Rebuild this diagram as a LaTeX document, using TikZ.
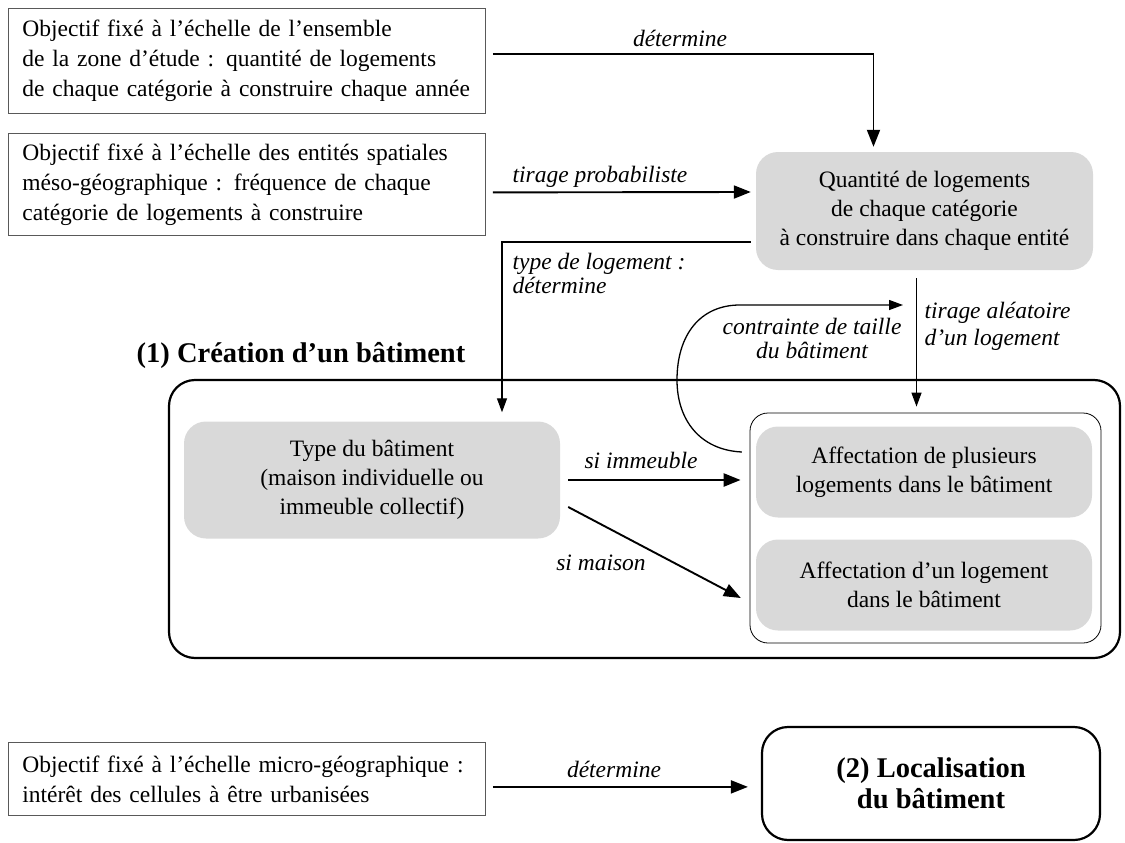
\documentclass[tikz,border=0pt]{standalone}
\usepackage{fontspec}
\setmainfont{Liberation Serif}
\usetikzlibrary{arrows.meta}

\tikzset{
  objbox/.style={draw=black!65, line width=0.8pt, anchor=north west, align=left,
    inner xsep=14pt, text width=449pt, font=\fontsize{23.5}{30}\selectfont},
  greybox/.style={fill=black!15, rounded corners=22pt, align=center,
    font=\fontsize{23.5}{29}\selectfont},
  lab/.style={font=\fontsize{23.5}{24}\selectfont\itshape},
  fleche/.style={-{Triangle[length=17pt,width=13pt]}, line width=1.9pt},
  fine/.style={-{Triangle[length=14pt,width=10pt]}, line width=1.3pt},
}

\begin{document}
\begin{tikzpicture}[x=1pt,y=-1pt]
\useasboundingbox (0,0) rectangle (1125,843);

% Objectives on the left
\node (objA) [objbox, minimum height=105pt] at (8,8)
  {Objectif fixé à l’échelle de l’ensemble\\de la zone d’étude : quantité de logements\\de chaque catégorie à construire chaque année};
\node (objB) [objbox, minimum height=102pt] at (8,133)
  {Objectif fixé à l’échelle des entités spatiales\\méso-géographique : fréquence de chaque\\catégorie de logements à construire};
\node (objC) [objbox, minimum height=73pt] at (8,742)
  {Objectif fixé à l’échelle micro-géographique :\\intérêt des cellules à être urbanisées};

% Grey boxes
\node (Q) [greybox, minimum width=337pt, minimum height=118pt] at (924.5,211)
  {Quantité de logements\\de chaque catégorie\\à construire dans chaque entité};

% (1) building creation
\node (titre) [font=\fontsize{28.5}{32}\selectfont\bfseries] at (301,355) {(1) Création d’un bâtiment};
\node (creation) [draw, line width=2.2pt, rounded corners=26pt, minimum width=951pt, minimum height=278pt] at (644.5,519) {};
\node (inner) [draw, line width=0.8pt, rounded corners=18pt, minimum width=351pt, minimum height=230pt] at (925.5,528) {};
\node (type) [greybox, minimum width=376pt, minimum height=117pt] at (372,480)
  {Type du bâtiment\\(maison individuelle ou\\immeuble collectif)};
\node (affP) [greybox, minimum width=336pt, minimum height=91pt] at (924,472)
  {Affectation de plusieurs\\logements dans le bâtiment};
\node (affU) [greybox, minimum width=336pt, minimum height=91pt] at (924,585)
  {Affectation d’un logement\\dans le bâtiment};

% (2) location
\node (loc) [draw, line width=2.2pt, rounded corners=26pt, minimum width=338pt, minimum height=113pt,
  align=center, font=\fontsize{28.5}{31}\selectfont\bfseries] at (931,783.5) {(2) Localisation\\du bâtiment};

% Connectors
\draw[fleche, shorten >=5pt] ([xshift=7pt,yshift=7pt]objA.east) -| ([xshift=-51pt]Q.north);
\draw[fleche] ([xshift=7pt,yshift=-8pt]objB.east) -- ([xshift=-5pt,yshift=19pt]Q.west);
\draw[fine, shorten >=9pt] ([xshift=-5pt,yshift=-31pt]Q.west) -| ([xshift=130pt]type.north);
\draw[fine, shorten <=8pt, shorten >=6pt] ([xshift=-8pt]Q.south) -- ([xshift=-8pt]Q.south |- inner.north);
\draw[fleche, line width=2.5pt, shorten >=9pt] ([xshift=8pt]type.east) -- (type.east -| inner.west);
\draw[fleche] ([xshift=8pt,yshift=-27pt]type.east) -- ([xshift=-15pt,yshift=-13pt]affU.west);
\coordinate (contrainte) at (903,305);
\draw[fine] ([xshift=-14pt,yshift=20pt]affP.west) .. controls (700,450) and (677,420) .. (677,380)
  .. controls (677,335) and (700,305) .. (740,305) -- (contrainte);
\draw[fleche, shorten >=13pt] ([xshift=7pt,yshift=-8pt]objC.east) -- ([yshift=-8pt]objC.east -| loc.west);

% Labels
\node (l1) [lab] at (680,38) {détermine};
\node (l2) [lab] at (600,177) {tirage probabiliste};
\node (l3) [lab, anchor=west, align=left] at (509,273) {type de logement :\\détermine};
\node (l4) [lab, anchor=west, align=left, font=\fontsize{23.5}{27}\selectfont\itshape] at (921,326) {tirage aléatoire\\d’un logement};
\node (l5) [lab, align=center] at (812,338) {contrainte de taille\\du bâtiment};
\node (l6) [lab] at (641,460) {si immeuble};
\node (l7) [lab] at (601,563) {si maison};
\node (l8) [lab] at (614,769) {détermine};

\end{tikzpicture}
\end{document}
